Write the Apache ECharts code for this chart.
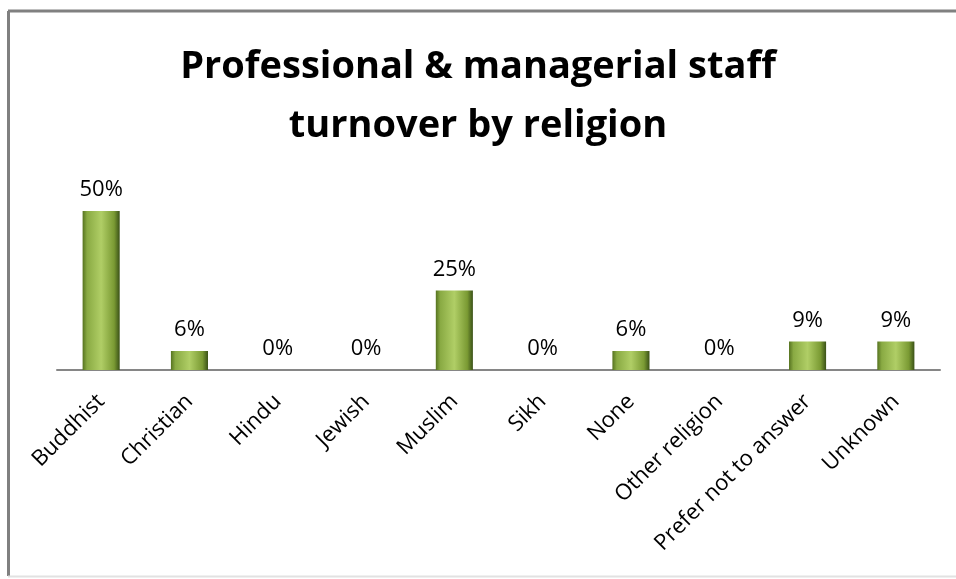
<!DOCTYPE html>
<html>
<head>
<meta charset="utf-8">
<script src="https://cdn.jsdelivr.net/npm/echarts@6/dist/echarts.min.js"></script>
<style>
  html, body { margin: 0; padding: 0; background: #ffffff; }
  #chart { width: 956px; height: 579px; }
</style>
</head>
<body>
<div id="chart"></div>
<script>
// Religion categories and turnover shares (fractions)
const categories = ['Buddhist', 'Christian', 'Hindu', 'Jewish', 'Muslim', 'Sikh', 'None', 'Other religion', 'Prefer not to answer', 'Unknown'];
const turnover = [0.50, 0.06, 0, 0, 0.25, 0, 0.06, 0, 0.09, 0.09];
const titleLines = ['Professional & managerial staff', 'turnover by religion'];

const chart = echarts.init(document.getElementById('chart'), null, { renderer: 'canvas' });

// Bevelled olive-green bar fill
const barFill = new echarts.graphic.LinearGradient(0, 0, 1, 0, [
  { offset: 0, color: '#567320' },
  { offset: 0.12, color: '#89aa43' },
  { offset: 0.5, color: '#b0ce66' },
  { offset: 0.85, color: '#7a9a33' },
  { offset: 1, color: '#3a5117' }
]);

chart.setOption({
  animation: false,
  backgroundColor: '#ffffff',
  title: {
    text: titleLines.join('\n'),
    left: 'center',
    top: 33,
    textStyle: {
      fontFamily: 'Open Sans',
      fontWeight: 'bold',
      fontSize: 38,
      lineHeight: 59,
      color: '#000000'
    }
  },
  grid: { left: 57, right: 16, top: 211, bottom: 209, containLabel: false },
  xAxis: {
    type: 'category',
    data: categories,
    axisLine: { lineStyle: { color: '#868686', width: 2 } },
    axisTick: { show: false },
    axisLabel: {
      rotate: 45,
      interval: 0,
      margin: 28,
      fontFamily: 'Open Sans',
      fontSize: 22,
      color: '#000000'
    }
  },
  yAxis: {
    type: 'value',
    min: 0,
    max: 0.5,
    show: false,
    splitLine: { show: false }
  },
  series: [{
    type: 'bar',
    data: turnover,
    barWidth: '42%',
    itemStyle: {
      color: barFill,
      borderWidth: 0
    },
    label: {
      show: true,
      position: 'top',
      distance: 10,
      fontFamily: 'Open Sans',
      fontSize: 22,
      color: '#000000',
      formatter: p => Math.round(p.value * 100) + '%'
    }
  }],
  graphic: [
    // chart area frame
    { type: 'line', shape: { x1: 8, y1: 11, x2: 956, y2: 11 }, style: { stroke: '#808080', lineWidth: 3 } },
    { type: 'line', shape: { x1: 8.5, y1: 11, x2: 8.5, y2: 576 }, style: { stroke: '#808080', lineWidth: 3 } },
    { type: 'line', shape: { x1: 8, y1: 576.5, x2: 956, y2: 576.5 }, style: { stroke: '#e2e2e2', lineWidth: 2 } }
  ]
});
</script>
</body>
</html>
